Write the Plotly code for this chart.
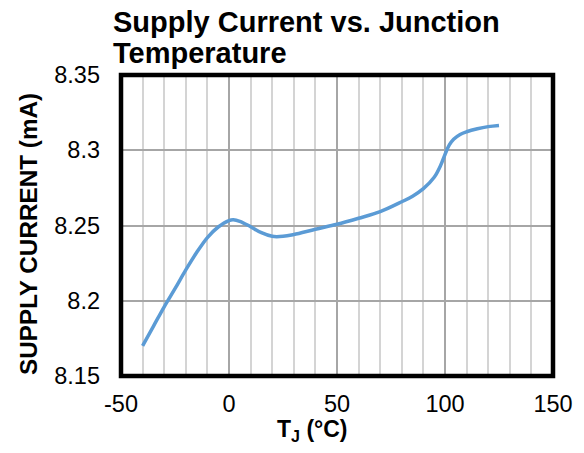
import plotly.graph_objects as go

# Junction temperature (°C) and measured supply current (mA)
temp_c = [-40, -35, -30, -25, -20, -15, -10, -5, 0, 2, 5, 10, 15, 20, 25, 30,
          40, 50, 60, 70, 80, 85, 90, 95, 98, 100, 102, 104, 107, 110, 115, 120, 125]
supply_ma = [8.170, 8.183, 8.196, 8.208, 8.2205, 8.232, 8.242, 8.249, 8.2533, 8.2538,
             8.2528, 8.2492, 8.2452, 8.2428, 8.2428, 8.2440, 8.2475, 8.2508, 8.2548,
             8.2592, 8.2658, 8.2695, 8.2745, 8.2820, 8.2900, 8.2972, 8.3035, 8.3073,
             8.3105, 8.3123, 8.3143, 8.3157, 8.3165]

x_ticks = [-50, 0, 50, 100, 150]
x_tick_text = ["-50", "0", "50", "100", "150"]
y_ticks = [8.15, 8.2, 8.25, 8.3, 8.35]
y_tick_text = ["8.15", "8.2", "8.25", "8.3", "8.35"]

W, H = 584, 453
L, R, T, B = 121, 31, 75, 77
pw, ph = W - L - R, H - T - B


def px(x):
    return (x - L) / pw


def py(y):
    return (H - B - y) / ph


font = "Liberation Sans, Arial, sans-serif"

fig = go.Figure()
fig.add_trace(go.Scatter(
    x=temp_c, y=supply_ma, mode="lines",
    line=dict(color="#5B9BD5", width=3.5, shape="spline", smoothing=1.0),
    hoverinfo="skip", showlegend=False,
))

fig.update_layout(
    width=W, height=H,
    margin=dict(l=L, r=R, t=T, b=B),
    paper_bgcolor="white", plot_bgcolor="white",
    font=dict(family=font, color="black", size=23),
    xaxis=dict(
        range=[-50, 150], tickvals=x_ticks, ticktext=x_tick_text, showgrid=True,
        gridcolor="#A6A6A6", gridwidth=1.5,
        minor=dict(dtick=10, tick0=0, showgrid=True, gridcolor="#D4D4D4", gridwidth=1.5),
        zeroline=False, showline=False, ticks="",
        tickfont=dict(size=23.5), ticklabelstandoff=11,
    ),
    yaxis=dict(
        range=[8.15, 8.35], tickvals=y_ticks, ticktext=y_tick_text, showgrid=True,
        gridcolor="#A6A6A6", gridwidth=1.5,
        zeroline=False, showline=False, ticks="",
        tickfont=dict(size=23.5), ticklabelstandoff=20,
    ),
    shapes=[dict(type="rect", xref="paper", yref="paper", x0=0, x1=1, y0=0, y1=1,
                 line=dict(color="black", width=4.5), layer="above")],
    annotations=[
        dict(text="<b>Supply Current vs. Junction</b>", xref="paper", yref="paper",
             x=px(111), y=py(22), xanchor="left", yanchor="middle",
             showarrow=False, font=dict(size=29)),
        dict(text="<b>Temperature</b>", xref="paper", yref="paper",
             x=px(111), y=py(53), xanchor="left", yanchor="middle",
             showarrow=False, font=dict(size=29)),
        dict(text="<b>SUPPLY CURRENT (mA)</b>", xref="paper", yref="paper",
             x=px(28), y=py(234), xanchor="center", yanchor="middle", textangle=-90,
             showarrow=False, font=dict(size=24.3)),
        dict(text="<b>T<sub>J</sub> (°C)</b>", xref="paper", yref="paper",
             x=px(312), y=py(430), xanchor="center", yanchor="middle",
             showarrow=False, font=dict(size=23)),
    ],
)

fig.write_html("out.html")
